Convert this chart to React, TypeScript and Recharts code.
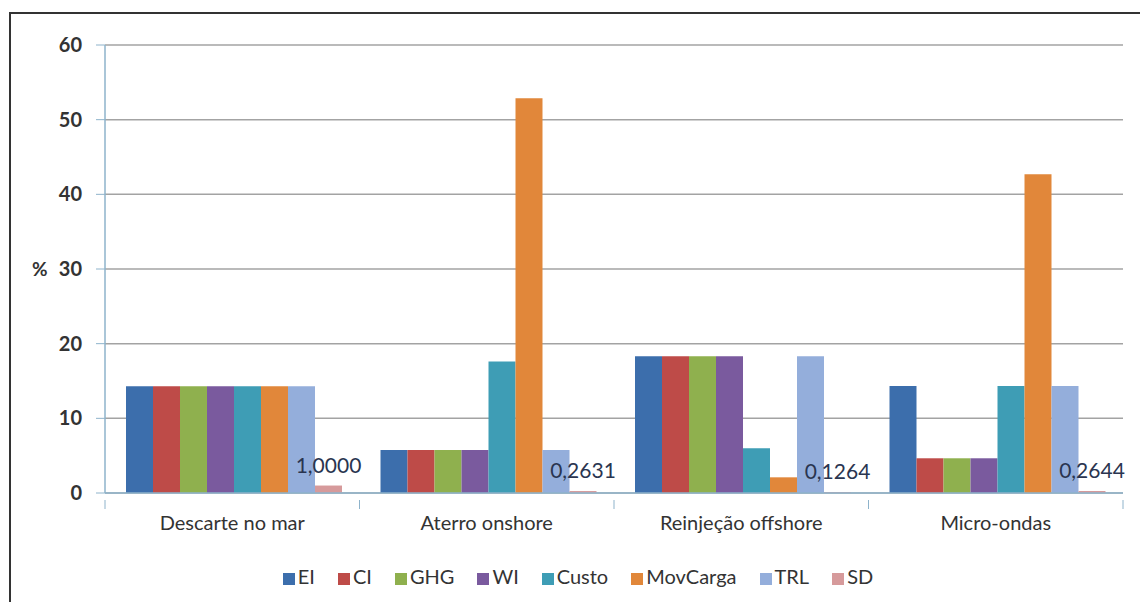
import { Bar, BarChart, CartesianGrid, LabelList, Legend, XAxis, YAxis } from 'recharts';

const categories = ['Descarte no mar', 'Aterro onshore', 'Reinjeção offshore', 'Micro-ondas'];

const ei = [14.29, 5.76, 18.33, 14.33];
const ci = [14.29, 5.76, 18.33, 4.65];
const ghg = [14.29, 5.76, 18.33, 4.65];
const wi = [14.29, 5.76, 18.33, 4.65];
const custo = [14.29, 17.6, 6.0, 14.33];
const movCarga = [14.29, 52.86, 2.1, 42.7];
const trl = [14.29, 5.76, 18.33, 14.33];
const sd = [1.0, 0.2631, 0.1264, 0.2644];

const yTicks = [0, 10, 20, 30, 40, 50, 60];

const series = [
  { key: 'EI', values: ei, color: '#3c6eac' },
  { key: 'CI', values: ci, color: '#be4b48' },
  { key: 'GHG', values: ghg, color: '#8fb04e' },
  { key: 'WI', values: wi, color: '#7a5a9e' },
  { key: 'Custo', values: custo, color: '#3e9db5' },
  { key: 'MovCarga', values: movCarga, color: '#e1873a' },
  { key: 'TRL', values: trl, color: '#94aedb' },
  { key: 'SD', values: sd, color: '#d69a9b' },
];
const seriesOrder = series.map((s) => s.key);

const data = categories.map((name, i) => {
  const row: Record<string, string | number> = { name };
  series.forEach((s) => {
    row[s.key] = s.values[i];
  });
  return row;
});

const W = 1140;
const H = 602;
const MARGIN = { top: 45, right: 17, left: 0, bottom: 69 };
const Y_WIDTH = 105;
const BAND = (W - MARGIN.left - Y_WIDTH - MARGIN.right) / categories.length;
const FONT = 'Lato, "Open Sans", sans-serif';
const TEXT = '#333333';
const AXIS = '#8eb3cb';

// category label plus the divider ticks between groups
function CategoryTick(props: any) {
  const { x, y, payload, index } = props;
  const half = BAND / 2;
  return (
    <g>
      {index === 0 && <line x1={x - half} x2={x - half} y1={y - 1} y2={y + 8} stroke={AXIS} />}
      <line x1={x + half} x2={x + half} y1={y - 1} y2={y + 8} stroke={AXIS} />
      <text x={x} y={y + 29} textAnchor="middle" fontSize={20} fill={TEXT} fontFamily={FONT}>
        {payload.value}
      </text>
    </g>
  );
}

const fmtSd = (v: any) => Number(v).toFixed(4).replace('.', ',');

export default function App() {
  return (
    <div style={{ position: 'absolute', left: 0, top: 0, width: W, height: H, background: '#fff', overflow: 'hidden' }}>
      <div
        style={{
          position: 'absolute',
          left: 9,
          top: 12,
          width: W,
          height: H,
          borderTop: '2px solid #333',
          borderLeft: '2px solid #333',
        }}
      />
      <BarChart
        width={W}
        height={H}
        data={data}
        margin={MARGIN}
        barCategoryGap={21}
        barGap={0}
        style={{ fontFamily: FONT }}
      >
        <CartesianGrid stroke="#a3a3a3" strokeWidth={1.5} vertical={false} />
        <XAxis
          dataKey="name"
          height={40}
          tick={<CategoryTick />}
          tickLine={false}
          interval={0}
          axisLine={{ stroke: AXIS, strokeWidth: 1.5 }}
        />
        <YAxis
          width={Y_WIDTH}
          domain={[0, 60]}
          ticks={yTicks}
          tickSize={9}
          tickMargin={14}
          tick={{ fontSize: 20, fill: TEXT, fontFamily: FONT, fontWeight: 700 }}
          tickLine={{ stroke: AXIS }}
          axisLine={{ stroke: AXIS, strokeWidth: 1.5 }}
          label={{ value: '%', position: 'insideLeft', offset: 32, style: { fontSize: 19, fill: TEXT, fontWeight: 700, fontFamily: FONT } }}
        />
        <Legend
          verticalAlign="middle"
          align="center"
          layout="horizontal"
          iconType="square"
          iconSize={12}
          itemSorter={(item: any) => seriesOrder.indexOf(item.dataKey ?? item.value)}
          wrapperStyle={{ top: 564, left: 28, width: 1123, fontSize: 20, fontFamily: FONT }}
          formatter={(value: string) => <span style={{ color: TEXT, marginLeft: -1, marginRight: 13 }}>{value}</span>}
        />
        {series.map((s) => (
          <Bar key={s.key} dataKey={s.key} fill={s.color} isAnimationActive={false}>
            {s.key === 'SD' && (
              <LabelList dataKey="SD" position="top" offset={13} formatter={fmtSd} style={{ fontSize: 21, fill: '#2a3550', fontFamily: FONT }} />
            )}
          </Bar>
        ))}
      </BarChart>
    </div>
  );
}
